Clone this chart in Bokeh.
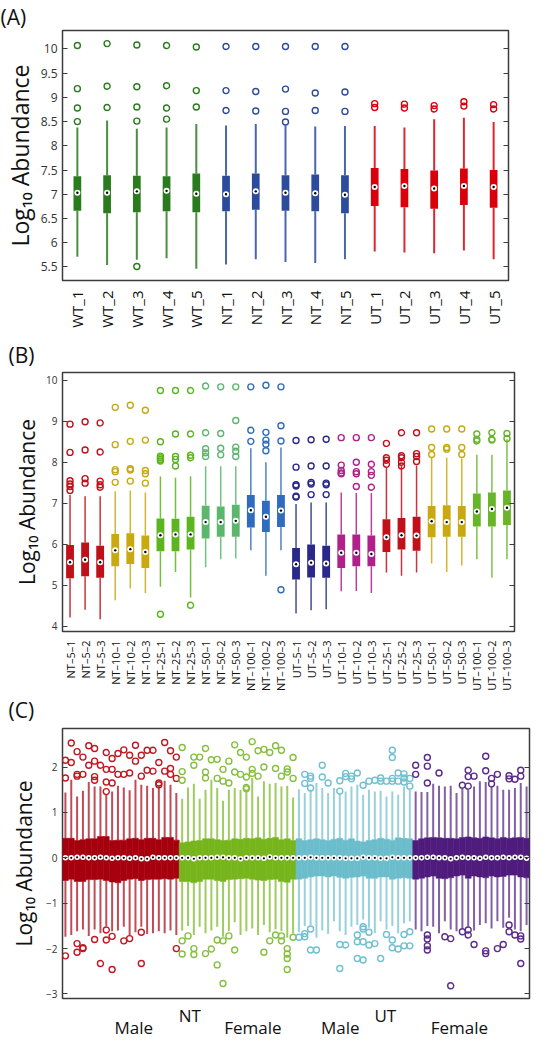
import numpy as np
from bokeh.plotting import figure
from bokeh.models import ColumnDataSource, FixedTicker, LinearAxis, Range1d, Title
from bokeh.core.properties import value
from bokeh.layouts import column
from bokeh.embed import file_html
from bokeh.resources import INLINE

FONT = "Open Sans"

# ---------------- Panel A data ----------------
A_labels = ["WT_1", "WT_2", "WT_3", "WT_4", "WT_5", "NT_1", "NT_2", "NT_3", "NT_4", "NT_5",
            "UT_1", "UT_2", "UT_3", "UT_4", "UT_5"]
A_group = ["WT"] * 5 + ["NT"] * 5 + ["UT"] * 5
A_q1 = [6.66, 6.61, 6.63, 6.65, 6.63, 6.65, 6.68, 6.66, 6.65, 6.61, 6.76, 6.73, 6.70, 6.78, 6.72]
A_med = [7.03, 7.03, 7.06, 7.07, 7.01, 7.00, 7.06, 7.03, 7.02, 6.99, 7.15, 7.17, 7.12, 7.17, 7.15]
A_q3 = [7.37, 7.39, 7.38, 7.37, 7.43, 7.38, 7.43, 7.39, 7.41, 7.39, 7.54, 7.52, 7.49, 7.53, 7.50]
A_lo = [5.71, 5.54, 5.65, 5.68, 5.46, 5.55, 5.66, 5.60, 5.58, 5.66, 5.82, 5.80, 5.78, 5.84, 5.66]
A_hi = [8.38, 8.52, 8.35, 8.38, 8.45, 8.42, 8.45, 8.42, 8.40, 8.41, 8.41, 8.38, 8.55, 8.58, 8.49]
A_out_box = [1, 1, 1, 1, 2, 2, 2, 3, 3, 3, 3, 3, 4, 4, 4, 4, 5, 5, 5, 6, 6, 6, 7, 7, 7,
             8, 8, 8, 8, 9, 9, 9, 10, 10, 10, 11, 11, 12, 12, 13, 13, 14, 14, 15, 15]
A_out_val = [10.07, 9.18, 8.78, 8.50, 10.11, 9.23, 8.79, 10.08, 9.22, 8.80, 8.51, 5.51,
             10.07, 9.24, 8.78, 8.55, 10.04, 9.14, 8.80, 10.05, 9.14, 8.73, 10.05, 9.12, 8.72,
             10.05, 9.17, 8.71, 8.49, 10.05, 9.09, 8.73, 10.05, 9.11, 8.71,
             8.87, 8.79, 8.86, 8.78, 8.83, 8.76, 8.91, 8.82, 8.85, 8.76]
A_yticks = [5.5, 6, 6.5, 7, 7.5, 8, 8.5, 9, 9.5, 10]

# ---------------- Panel B data ----------------
B_labels = ["NT–5–1", "NT–5–2", "NT–5–3", "NT–10–1", "NT–10–2", "NT–10–3",
            "NT–25–1", "NT–25–2", "NT–25–3", "NT–50–1", "NT–50–2", "NT–50–3",
            "NT–100–1", "NT–100–2", "NT–100–3",
            "UT–5–1", "UT–5–2", "UT–5–3", "UT–10–1", "UT–10–2", "UT–10–3",
            "UT–25–1", "UT–25–2", "UT–25–3", "UT–50–1", "UT–50–2", "UT–50–3",
            "UT–100–1", "UT–100–2", "UT–100–3"]
B_group = ["NT5"] * 3 + ["NT10"] * 3 + ["NT25"] * 3 + ["NT50"] * 3 + ["NT100"] * 3 + \
          ["UT5"] * 3 + ["UT10"] * 3 + ["UT25"] * 3 + ["UT50"] * 3 + ["UT100"] * 3
B_q1 = [5.17, 5.22, 5.18, 5.46, 5.52, 5.42, 5.83, 5.83, 5.87, 6.14, 6.18, 6.18, 6.41, 6.30, 6.42,
        5.14, 5.19, 5.18, 5.42, 5.46, 5.46, 5.81, 5.87, 5.84, 6.17, 6.18, 6.18, 6.43, 6.43, 6.47]
B_med = [5.56, 5.62, 5.56, 5.85, 5.88, 5.81, 6.22, 6.24, 6.24, 6.54, 6.54, 6.57, 6.83, 6.67, 6.82,
         5.51, 5.55, 5.53, 5.79, 5.79, 5.76, 6.17, 6.22, 6.21, 6.56, 6.54, 6.54, 6.80, 6.86, 6.89]
B_q3 = [5.98, 6.04, 5.96, 6.25, 6.27, 6.21, 6.63, 6.62, 6.67, 6.94, 6.92, 6.96, 7.20, 7.06, 7.20,
        5.91, 5.99, 5.96, 6.24, 6.24, 6.21, 6.61, 6.64, 6.67, 6.93, 6.95, 6.93, 7.24, 7.26, 7.31]
B_lo = [4.21, 4.40, 4.17, 4.63, 4.92, 4.81, 4.96, 5.32, 4.70, 5.44, 5.63, 5.65, 5.85, 5.23, 5.85,
        4.31, 4.39, 4.41, 4.85, 4.86, 4.81, 5.31, 5.23, 5.31, 5.53, 5.32, 5.48, 5.63, 5.18, 5.63]
B_hi = [7.20, 7.17, 7.17, 7.29, 7.31, 7.26, 7.65, 7.62, 7.66, 7.90, 7.90, 7.90, 8.34, 8.00, 8.36,
        6.98, 7.02, 7.02, 7.26, 7.25, 7.25, 7.86, 7.92, 7.92, 8.11, 8.11, 8.09, 8.18, 8.18, 8.56]
B_out_box = [1] * 6 + [2] * 4 + [3] * 5 + [4] * 5 + [5] * 5 + [6] * 5 + [7] * 7 + [8] * 5 + [9] * 5 + \
            [10] * 5 + [11] * 4 + [12] * 5 + [13] * 3 + [14] * 5 + [15] * 4 + [16] * 6 + [17] * 5 + \
            [18] * 5 + [19] * 5 + [20] * 5 + [21] * 5 + [22] * 4 + [23] * 5 + [24] * 4 + [25] * 3 + \
            [26] * 3 + [27] * 3 + [28] * 3 + [29] * 3 + [30] * 2
B_out_val = [8.93, 8.24, 7.55, 7.47, 7.41, 7.31,
             8.99, 8.30, 7.60, 7.49,
             8.96, 8.25, 7.54, 7.45, 7.39,
             9.34, 8.43, 7.82, 7.77, 7.51,
             9.39, 8.51, 7.84, 7.81, 7.54,
             9.27, 8.54, 7.80, 7.72, 7.49,
             9.75, 8.50, 8.15, 8.11, 8.07, 8.03, 4.29,
             9.75, 8.69, 8.14, 8.07, 7.91,
             9.75, 8.69, 8.17, 8.11, 4.51,
             9.86, 8.72, 8.33, 8.23, 8.14,
             9.84, 8.70, 8.34, 8.18,
             9.84, 9.02, 8.37, 8.27, 8.14,
             9.84, 8.78, 8.51,
             9.88, 8.73, 8.54, 8.44, 8.28,
             9.84, 8.89, 8.52, 4.89,
             8.53, 7.88, 7.45, 7.42, 7.17, 7.15,
             8.55, 7.91, 7.51, 7.47, 7.21,
             8.56, 7.91, 7.49, 7.45, 7.21,
             8.60, 7.93, 7.80, 7.74, 7.72,
             8.60, 8.00, 7.77, 7.72, 7.41,
             8.60, 7.95, 7.77, 7.68, 7.39,
             8.46, 8.11, 8.05, 7.95,
             8.72, 8.16, 8.11, 8.00, 7.91,
             8.72, 8.21, 8.14, 8.02,
             8.81, 8.36, 8.19,
             8.81, 8.36, 8.32,
             8.81, 8.36, 8.19,
             8.69, 8.56, 8.52,
             8.72, 8.56, 8.54,
             8.70, 8.58]
B_yticks = [4, 5, 6, 7, 8, 9, 10]

# ---------------- Panel C data (80 samples, 4 groups of 20) ----------------
C_group = ["NT Male"] * 20 + ["NT Female"] * 20 + ["UT Male"] * 20 + ["UT Female"] * 20
C_q3 = [0.43, 0.43, 0.38, 0.40, 0.42, 0.42, 0.47, 0.47, 0.38, 0.39, 0.39, 0.42, 0.43, 0.40, 0.43, 0.43, 0.40, 0.45, 0.45, 0.39,
        0.33, 0.35, 0.37, 0.38, 0.42, 0.42, 0.40, 0.38, 0.39, 0.42, 0.41, 0.43, 0.42, 0.44, 0.41, 0.43, 0.45, 0.40, 0.42, 0.38,
        0.42, 0.38, 0.40, 0.42, 0.40, 0.38, 0.41, 0.43, 0.39, 0.42, 0.37, 0.35, 0.38, 0.40, 0.43, 0.41, 0.39, 0.44, 0.43, 0.42,
        0.38, 0.42, 0.44, 0.45, 0.44, 0.43, 0.43, 0.42, 0.45, 0.46, 0.44, 0.43, 0.46, 0.44, 0.42, 0.45, 0.43, 0.44, 0.45, 0.43]
C_med = [0.0, 0.0, 0.01, 0.01, 0.0, 0.0, 0.01, 0.0, -0.01, 0.0, 0.0, -0.01, 0.0, -0.02, -0.02, 0.01, 0.0, 0.0, 0.0, 0.0,
         0.0, 0.0, -0.02, 0.0, 0.0, 0.0, 0.01, 0.01, 0.0, 0.0, -0.02, 0.0, 0.0, 0.0, -0.01, 0.02, 0.0, 0.0, 0.0, 0.0,
         0.0, 0.0, 0.01, 0.0, 0.0, 0.0, 0.0, 0.0, -0.01, -0.01, -0.01, 0.01, 0.0, 0.0, -0.01, -0.01, 0.01, 0.0, 0.0, 0.0,
         0.0, 0.0, 0.01, 0.01, 0.0, 0.0, -0.02, 0.0, 0.01, 0.0, 0.0, -0.01, 0.01, 0.0, 0.0, 0.01, 0.0, 0.01, 0.01, -0.01]
C_q1 = [-0.50, -0.47, -0.52, -0.52, -0.48, -0.48, -0.47, -0.50, -0.53, -0.55, -0.50, -0.47, -0.46, -0.50, -0.48, -0.47, -0.47, -0.46, -0.47, -0.45,
        -0.52, -0.52, -0.55, -0.52, -0.47, -0.47, -0.50, -0.52, -0.48, -0.47, -0.46, -0.45, -0.47, -0.49, -0.50, -0.48, -0.47, -0.52, -0.54, -0.47,
        -0.47, -0.45, -0.42, -0.40, -0.40, -0.42, -0.40, -0.43, -0.45, -0.43, -0.42, -0.40, -0.45, -0.45, -0.42, -0.42, -0.47, -0.45, -0.44, -0.45,
        -0.47, -0.45, -0.42, -0.40, -0.45, -0.46, -0.44, -0.40, -0.38, -0.45, -0.40, -0.42, -0.44, -0.40, -0.42, -0.41, -0.38, -0.38, -0.42, -0.44]
C_hi = [1.44, 1.72, 1.35, 1.48, 1.67, 1.57, 1.57, 1.40, 1.46, 1.59, 1.55, 1.49, 1.72, 1.61, 1.59, 1.54, 1.57, 1.70, 1.61, 1.43,
        1.30, 1.55, 1.63, 1.30, 1.50, 1.72, 1.54, 1.26, 1.50, 1.54, 1.50, 1.45, 1.76, 1.35, 1.69, 1.63, 1.65, 1.57, 1.59, 1.33,
        1.51, 1.43, 1.50, 1.65, 1.54, 1.43, 1.54, 1.42, 1.46, 1.57, 1.61, 1.39, 1.50, 1.46, 1.48, 1.35, 1.46, 1.39, 1.57, 1.50,
        1.46, 1.45, 1.45, 1.63, 1.59, 1.57, 1.59, 1.43, 1.52, 1.50, 1.57, 1.69, 1.67, 1.57, 1.59, 1.50, 1.50, 1.54, 1.65, 1.57]
C_lo = [-1.74, -1.70, -1.62, -1.58, -1.72, -1.58, -1.66, -1.50, -1.62, -1.60, -1.52, -1.70, -1.64, -1.52, -1.68, -1.66, -1.62, -1.66, -1.60, -1.70,
        -1.60, -1.50, -1.70, -1.52, -1.66, -1.60, -1.52, -1.74, -1.62, -1.42, -1.70, -1.62, -1.56, -1.70, -1.48, -1.64, -1.58, -1.62, -1.76, -1.66,
        -1.64, -1.50, -1.48, -1.76, -1.60, -1.68, -1.40, -1.62, -1.70, -1.52, -1.48, -1.36, -1.54, -1.66, -1.40, -1.58, -1.50, -1.66, -1.44, -1.40,
        -1.58, -1.62, -1.50, -1.52, -1.66, -1.40, -1.58, -1.62, -1.56, -1.52, -1.60, -1.48, -1.44, -1.56, -1.40, -1.54, -1.32, -1.58, -1.62, -1.48]
C_out_box = [1, 1, 2, 2, 3, 3, 3, 4, 4, 5, 5, 6, 6, 6, 6, 7, 8, 8, 8, 8, 9, 9, 9, 10, 10, 11, 11, 12, 12,
             13, 13, 14, 14, 15, 15, 16, 16, 17, 17, 17, 18, 18, 19, 19, 19, 20, 20,
             21, 21, 21, 23, 23, 24, 25, 25, 25, 26, 27, 27, 28, 28, 29, 29, 30, 30, 31, 31,
             32, 32, 32, 32, 33, 33, 33, 34, 34, 35, 35, 36, 37, 37, 38, 38, 39, 39, 40, 40,
             42, 42, 43, 43, 43, 45, 45, 46, 48, 48, 49, 49, 50, 50, 51, 52, 53, 54, 55, 55, 56,
             57, 57, 57, 57, 58, 58, 59, 59, 59, 60, 60,
             61, 61, 63, 63, 63, 65, 69, 70, 70, 70, 71, 73, 73, 74, 74, 75, 77, 77, 78, 79, 79,
             1, 3, 3, 4, 4, 6, 7, 8, 8, 9, 9, 11, 12, 14, 14, 20,
             21, 21, 22, 23, 23, 25, 26, 27, 27, 28, 28, 29, 30, 35, 36, 37, 38, 38, 39, 39, 39, 39, 40,
             41, 42, 42, 43, 43, 44, 48, 48, 49, 51, 51, 51, 52, 52, 52, 52, 53, 53, 54, 55, 56, 57, 57,
             58, 59, 59, 60, 60,
             63, 63, 63, 63, 66, 67, 67, 69, 70, 70, 71, 73, 73, 75, 76, 77, 77, 78, 79, 79, 79]
C_out_val = [2.15, 1.76, 2.53, 2.10, 2.34, 1.84, 1.80, 2.22, 1.84, 2.47, 2.04, 2.41, 2.13, 1.79, 1.71, 2.04,
             2.32, 1.95, 1.67, 1.46, 2.19, 1.95, 1.65, 2.30, 1.84, 2.38, 1.84, 2.26, 1.87,
             2.48, 2.13, 2.26, 1.80, 2.37, 1.93, 2.37, 1.91, 2.10, 1.65, 1.61, 2.54, 1.91, 2.36, 1.97, 1.84, 2.22, 1.75,
             2.43, 1.90, 1.71, 2.22, 2.04, 2.22, 2.41, 1.89, 1.76, 2.16, 2.17, 1.75, 1.95, 1.69, 2.13, 1.65, 2.49, 1.89,
             2.32, 1.84, 2.22, 1.78, 1.55, 1.52, 2.56, 1.95, 1.86, 2.36, 1.80, 2.39, 2.00, 2.32, 2.47, 1.97, 2.37, 1.80,
             1.96, 1.89, 2.21, 1.75,
             1.84, 1.64, 1.80, 1.75, 1.54, 2.04, 1.78, 1.65, 1.70, 1.47, 1.86, 1.79, 1.80, 1.74, 1.87, 1.60, 1.69, 1.71,
             1.76, 1.69, 1.69, 2.37, 2.21, 1.75, 1.69, 1.87, 1.69, 1.85, 1.76, 1.67, 1.75, 1.58,
             2.04, 1.84, 2.21, 2.02, 1.65, 1.87, 1.60, 1.93, 1.79, 1.58, 1.80, 2.24, 1.92, 1.75, 1.63, 1.84, 1.81, 1.74,
             1.73, 1.93, 1.80,
             -2.16, -1.89, -2.08, -1.98, -2.00, -1.80, -2.33, -1.59, -1.81, -2.46, -1.73, -1.83, -1.78, -1.64, -2.33, -2.00,
             -1.83, -2.12, -1.72, -2.00, -2.13, -2.11, -2.01, -1.81, -2.36, -1.83, -2.77, -1.72, -2.03, -2.08, -1.83, -1.70,
             -1.72, -1.83, -2.00, -2.12, -2.22, -2.46, -1.75,
             -1.75, -1.67, -1.74, -1.57, -2.03, -2.03, -1.91, -2.44, -1.92, -1.70, -1.85, -2.22, -1.52, -1.57, -1.85, -2.25,
             -1.64, -1.92, -1.89, -2.22, -1.69, -1.81, -1.98, -2.01, -1.69, -1.94, -1.63, -1.94,
             -1.70, -1.79, -1.94, -2.03, -1.74, -1.78, -2.82, -1.63, -1.59, -1.70, -1.91, -2.05, -2.11, -2.00, -1.91,
             -1.48, -1.63, -1.70, -1.72, -1.79, -2.33]
C_yticks = [-3, -2, -1, 0, 1, 2]
C_ytick_text = ["−3", "−2", "−1", "0", "1", "2"]
C_treat_text = ["NT", "UT"]
C_treat_x = [22.3, 55.8]
C_sex_text = ["Male", "Female", "Male", "Female"]
C_sex_x = [12.7, 33.1, 48.1, 68.5]

# ---------------- styling ----------------
A_pal = {"WT": "#2a7a1e", "NT": "#2c4b9c", "UT": "#d9000c"}
B_pal = {"NT5": "#c0101a", "NT10": "#c8a90f", "NT25": "#5cb41f", "NT50": "#5db66e", "NT100": "#2f6cc0",
         "UT5": "#2a288a", "UT10": "#b0208a", "UT25": "#c0101a", "UT50": "#c8a90f", "UT100": "#69b52a"}
C_pal = {"NT Male": "#a6000f", "NT Female": "#77b51d", "UT Male": "#6cbdcc", "UT Female": "#4f1c7e"}
C_out_pal = {"NT Male": "#c01822", "NT Female": "#84c03c", "UT Male": "#70c0d0", "UT Female": "#5a2a8c"}
TXT = "#333333"
INK = "#111111"


def make_fig(fw, fh, left, right, top, bottom, xr, yr, **kw):
    p = figure(frame_width=fw, frame_height=fh, output_backend="svg", toolbar_location=None,
               x_range=xr if not isinstance(xr, tuple) else Range1d(*xr), y_range=Range1d(*yr),
               min_border_left=left, min_border_right=right, min_border_top=top, min_border_bottom=bottom, **kw)
    p.xgrid.visible = False
    p.ygrid.visible = False
    p.outline_line_color = "#3c3c3c"
    p.outline_line_width = 1.5
    p.background_fill_color = "white"
    p.border_fill_color = "white"
    return p


def style_y(p, ticks, font_size, label_size, label_standoff, overrides=None):
    ax = p.yaxis[0]
    ax.ticker = FixedTicker(ticks=ticks)
    ax.axis_line_color = None
    ax.major_tick_in = 5
    ax.major_tick_out = 0
    ax.major_tick_line_color = "#3c3c3c"
    ax.minor_tick_line_color = None
    ax.major_label_text_font = FONT
    ax.major_label_text_font_size = font_size
    ax.major_label_text_color = TXT
    ax.major_label_standoff = 5
    ax.axis_label = "Log₁₀ Abundance"
    ax.axis_label_text_font = FONT
    ax.axis_label_text_font_size = label_size
    ax.axis_label_text_font_style = "normal"
    ax.axis_label_text_color = INK
    ax.axis_label_standoff = label_standoff
    if overrides:
        ax.major_label_overrides = overrides
    r = LinearAxis(ticker=FixedTicker(ticks=ticks), axis_line_color=None, major_tick_in=5,
                   major_tick_out=0, major_tick_line_color="#3c3c3c", minor_tick_line_color=None,
                   major_label_text_font_size="0px", major_label_text_alpha=0, major_label_standoff=0)
    p.add_layout(r, "right")


def style_x(ax, ticks, labels, font_size, standoff, orient):
    ax.ticker = FixedTicker(ticks=ticks)
    ax.major_label_overrides = {t: lab for t, lab in zip(ticks, labels)}
    ax.major_label_orientation = orient
    ax.axis_line_color = None
    ax.major_tick_line_color = None
    ax.minor_tick_line_color = None
    ax.major_label_text_font = FONT
    ax.major_label_text_font_size = font_size
    ax.major_label_text_color = INK
    ax.major_label_standoff = standoff


def set_letter(p, text, offset, standoff):
    p.title.text = text
    p.title.align = "left"
    p.title.offset = offset
    p.title.standoff = standoff
    p.title.text_font = FONT
    p.title.text_font_size = "21px"
    p.title.text_font_style = "normal"
    p.title.text_color = INK


def draw_boxes(p, q1, med, q3, lo, hi, cols, width, wlw, walpha, msize, dsize, box_line=0):
    xs = list(range(1, len(q1) + 1))
    src = ColumnDataSource(dict(x=xs, q1=q1, med=med, q3=q3, lo=lo, hi=hi, c=cols))
    p.segment(x0="x", y0="q3", x1="x", y1="hi", line_color="c", line_width=wlw, line_alpha=walpha, source=src)
    p.segment(x0="x", y0="q1", x1="x", y1="lo", line_color="c", line_width=wlw, line_alpha=walpha, source=src)
    p.vbar(x="x", width=width, top="q3", bottom="q1", fill_color="c",
           line_color="c" if box_line else None, line_width=box_line, source=src)
    p.scatter(x="x", y="med", size=msize, fill_color="white", line_color=None, source=src)
    p.scatter(x="x", y="med", size=dsize, fill_color="black", line_color=None, source=src)


def draw_outliers(p, boxes, vals, cols, size, lw):
    src = ColumnDataSource(dict(x=boxes, y=vals, c=cols))
    p.scatter(x="x", y="y", size=size, marker="circle", fill_color=None, line_color="c",
              line_width=lw, source=src)


# ---------------- Panel A ----------------
pA = make_fig(446, 250, 62, 24, 28, 54, (0.5, 15.5), (5.22, 10.38))
colsA = [A_pal[g] for g in A_group]
draw_boxes(pA, A_q1, A_med, A_q3, A_lo, A_hi, colsA, 0.26, 2, 0.85, 6, 2.4)
draw_outliers(pA, A_out_box, A_out_val, [A_pal[A_group[b - 1]] for b in A_out_box], 6, 1.4)
style_y(pA, A_yticks, "12px", "23px", 2)
style_x(pA.xaxis[0], list(range(1, 16)), A_labels, "15px", 4, np.pi / 2)
set_letter(pA, "(A)", -62, 0)

# ---------------- Panel B ----------------
pB = make_fig(452, 259, 54, 26, 37, 60, (0.5, 30.5), (3.87, 10.19))
colsB = [B_pal[g] for g in B_group]
draw_boxes(pB, B_q1, B_med, B_q3, B_lo, B_hi, colsB, 0.52, 1.5, 0.85, 6, 2.4)
draw_outliers(pB, B_out_box, B_out_val, [B_pal[B_group[b - 1]] for b in B_out_box], 6, 1.4)
style_y(pB, B_yticks, "10px", "21px", 2)
style_x(pB.xaxis[0], list(range(1, 31)), B_labels, "11px", 3, np.pi / 2)
set_letter(pB, "(B)", -54, 8)
tC = Title(text="(C)", align="left", offset=-54, standoff=0, text_font=FONT, text_font_size="21px",
           text_font_style="normal", text_color=INK)
pB.add_layout(tC, "below")

# ---------------- Panel C ----------------
pC = make_fig(467, 270, 51, 14, 5, 2, (0.5, 80.5), (-3.10, 2.85))
colsC = [C_pal[g] for g in C_group]
draw_boxes(pC, C_q1, C_med, C_q3, C_lo, C_hi, colsC, 1.0, 2, 0.7, 5.5, 2.2, box_line=0.6)
draw_outliers(pC, C_out_box, C_out_val, [C_out_pal[C_group[b - 1]] for b in C_out_box], 6, 1.4)
style_y(pC, C_yticks, "10px", "21px", 5, {t: s for t, s in zip(C_yticks, C_ytick_text)})
pC.xaxis.visible = False

# group captions under panel C (own strip sharing C's x scale)
pD = figure(frame_width=467, frame_height=40, output_backend="svg", toolbar_location=None,
            x_range=pC.x_range, y_range=Range1d(0, 40), x_axis_type=None, y_axis_type=None,
            min_border_left=51, min_border_right=14, min_border_top=0, min_border_bottom=0)
pD.outline_line_color = None
pD.xgrid.visible = False
pD.ygrid.visible = False
pD.text(x=C_treat_x, y=[25] * len(C_treat_x), text=C_treat_text, text_align="center",
        text_baseline="middle", text_font=value(FONT), text_font_size="17px", text_color=INK)
pD.text(x=C_sex_x, y=[13] * len(C_sex_x), text=C_sex_text, text_align="center",
        text_baseline="middle", text_font=value(FONT), text_font_size="17px", text_color=INK)

layout = column(pA, pB, pC, pD, spacing=0)
open("out.html", "w").write(file_html(layout, INLINE))
